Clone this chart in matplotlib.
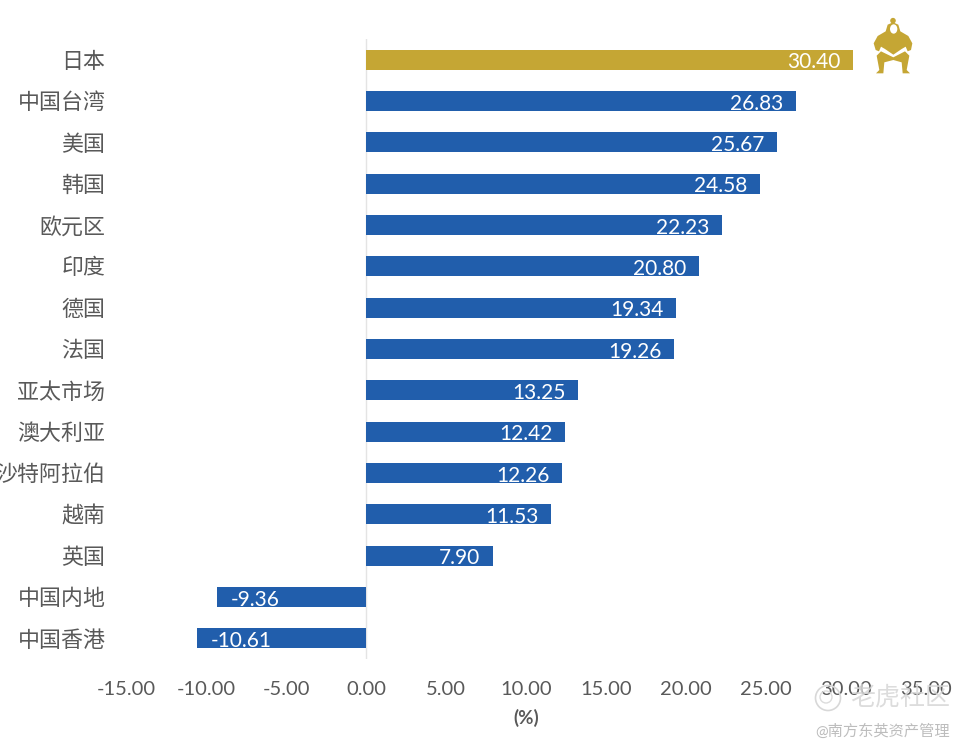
# bar chart of returns by market, with sumo icon and watermark
import matplotlib
matplotlib.use('Agg')
import matplotlib.pyplot as plt
from matplotlib.patches import Polygon, Circle, Ellipse

plt.rcParams['font.family'] = ['Lato', 'Noto Sans CJK SC', 'DejaVu Sans']

markets = ['日本', '中国台湾', '美国', '韩国', '欧元区', '印度', '德国', '法国', '亚太市场',
           '澳大利亚', '沙特阿拉伯', '越南', '英国', '中国内地', '中国香港']
values = [30.40, 26.83, 25.67, 24.58, 22.23, 20.80, 19.34, 19.26, 13.25,
          12.42, 12.26, 11.53, 7.90, -9.36, -10.61]
x_ticks = [-15, -10, -5, 0, 5, 10, 15, 20, 25, 30, 35]

W, H = 969, 753
GOLD = '#c5a634'
BLUE = '#215eac'
GREY = '#595959'

fig = plt.figure(figsize=(W / 100, H / 100), dpi=100)
ax = fig.add_axes([126.3 / W, 1 - 659 / H, 800 / W, 620 / H])

colors = [GOLD] + [BLUE] * (len(values) - 1)
ax.barh(range(len(values)), values, height=0.485, color=colors)
ax.set_xlim(-15, 35)
ax.set_ylim(len(values) - 0.5, -0.5)

ax.set_yticks(range(len(values)))
ax.set_yticklabels(markets, fontsize=15.8, color=GREY)
ax.set_xticks(x_ticks)
ax.set_xticklabels(['%.2f' % t for t in x_ticks], fontsize=14.5, color=GREY)
ax.tick_params(axis='both', length=0)
ax.tick_params(axis='y', pad=15)
ax.tick_params(axis='x', pad=16)
ax.set_xlabel('(%)', fontsize=13.5, color=GREY, fontweight='bold', labelpad=8)

for s in ['top', 'right', 'bottom', 'left']:
    ax.spines[s].set_visible(False)
ax.axvline(0, color='#e4e4e4', lw=1, zorder=0)

# value labels, inside the far end of each bar
for i, v in enumerate(values):
    if v >= 0:
        ax.annotate('%.2f' % v, (v, i), xytext=(-9, -2), textcoords='offset points',
                    ha='right', va='center', color='white', fontsize=15)
    else:
        ax.annotate('%.2f' % v, (v, i), xytext=(10, -2), textcoords='offset points',
                    ha='left', va='center', color='white', fontsize=15)

# overlay in pixel coordinates for icon and watermark
ov = fig.add_axes([0, 0, 1, 1], facecolor='none')
ov.set_xlim(0, W)
ov.set_ylim(H, 0)
ov.axis('off')


def zp(pts):
    return [(865 + x / 3, 14 + y / 3) for x, y in pts]


upper = [(84, 25), (68, 32), (62, 52), (38, 66), (26, 88), (32, 108), (42, 112), (48, 98),
         (60, 105), (85, 122), (110, 105), (122, 98), (128, 112), (138, 108), (142, 88),
         (130, 66), (106, 52), (100, 32)]
lower = [(48, 112), (85, 130), (120, 112), (133, 125), (125, 168), (135, 178), (113, 178),
         (110, 145), (85, 138), (58, 145), (55, 178), (33, 178), (43, 168), (35, 125)]
ov.add_patch(Polygon(zp(upper), closed=True, color=GOLD, lw=0))
ov.add_patch(Polygon(zp(lower), closed=True, color=GOLD, lw=0))
ov.add_patch(Ellipse((865 + 86 / 3, 14 + 45 / 3), 22 / 3, 28 / 3, color='white', lw=0))
ov.add_patch(Circle((865 + 84 / 3, 14 + 20 / 3), 2.8, color=GOLD, lw=0))

# watermark
ov.add_patch(Circle((828, 698), 12.5, fill=False, ec='#d8d8d8', lw=1.2))
ov.add_patch(Circle((826, 697), 6, fill=False, ec='#dcdcdc', lw=1))
ov.text(950, 697, '老虎社区', ha='right', va='center', fontsize=18, color='#d6d6d6', alpha=0.85)
ov.text(950, 731, '@南方东英资产管理', ha='right', va='center', fontsize=11, color='#bdbdbd')

fig.savefig('out.png', dpi=100)
